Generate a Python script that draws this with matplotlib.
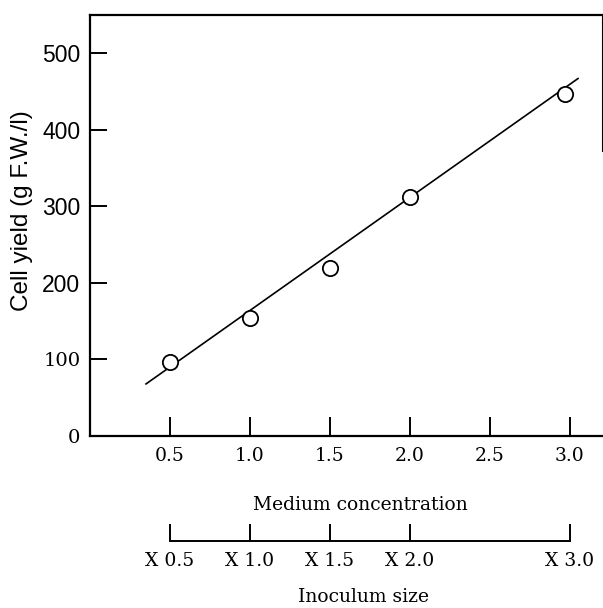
import matplotlib.pyplot as plt

# data
medium = [0.5, 1.0, 1.5, 2.0, 2.97]
cell_yield = [97, 154, 220, 312, 447]
fit_x = [0.35, 3.05]
fit_y = [68, 467]

x_ticks = [0.5, 1.0, 1.5, 2.0, 2.5, 3.0]
x_labels = ["0.5", "1.0", "1.5", "2.0", "2.5", "3.0"]
y_ticks = [0, 100, 200, 300, 400, 500]
inoculum_pos = [0.5, 1.0, 1.5, 2.0, 3.0]
inoculum_labels = ["X 0.5", "X 1.0", "X 1.5", "X 2.0", "X 3.0"]

SERIF = "DejaVu Serif"
SANS = "Liberation Sans"

W, H = 603, 608
fig = plt.figure(figsize=(W / 100, H / 100), dpi=100)

ax = fig.add_axes([90 / W, 172 / H, 512 / W, 421 / H])
ax.plot(fit_x, fit_y, color="black", lw=1.2)
ax.plot(medium, cell_yield, "o", mfc="white", mec="black", ms=11, mew=1.3)
ax.set_xlim(0, 3.2)
ax.set_ylim(0, 550)

for side in ["left", "bottom", "top"]:
    ax.spines[side].set_linewidth(1.6)
ax.spines["right"].set_linewidth(0.8)
ax.spines["right"].set_bounds(372, 550)

ax.set_xticks(x_ticks)
ax.set_xticklabels(x_labels, fontfamily=SERIF, fontsize=13.5)
ax.set_yticks(y_ticks)
ax.set_yticklabels([str(v) for v in y_ticks], fontfamily=SANS, fontsize=16.5)
for lbl in ax.get_yticklabels()[:2]:
    lbl.set_fontfamily(SERIF)
    lbl.set_fontsize(14)
ax.tick_params(axis="x", direction="in", length=14, width=1.4, pad=8)
ax.tick_params(axis="y", direction="in", length=12, width=1.4, pad=7)

ax.set_ylabel("Cell yield (g F.W./l)", fontfamily=SANS, fontsize=17.5, va="center")
ax.yaxis.set_label_coords(22 / W, 1 - 211 / H, transform=fig.transFigure)
ax.set_xlabel("Medium concentration", fontfamily=SERIF, fontsize=13.5, va="center")
ax.xaxis.set_label_coords(360 / W, 1 - 505 / H, transform=fig.transFigure)

# second scale underneath: inoculum size
ax2 = fig.add_axes([90 / W, 67 / H, 512 / W, 0.001])
ax2.patch.set_visible(False)
for side in ["left", "right", "top"]:
    ax2.spines[side].set_visible(False)
ax2.spines["bottom"].set_linewidth(1.4)
ax2.set_xlim(0, 3.2)
ax2.spines["bottom"].set_bounds(inoculum_pos[0], inoculum_pos[-1])
ax2.set_yticks([])
ax2.set_xticks(inoculum_pos)
ax2.set_xticklabels(inoculum_labels, fontfamily=SERIF, fontsize=13.5)
ax2.tick_params(axis="x", direction="in", length=12, width=1.4, pad=8)
ax2.set_xlabel("Inoculum size", fontfamily=SERIF, fontsize=13.5, va="center")
ax2.xaxis.set_label_coords(364 / W, 1 - 597 / H, transform=fig.transFigure)

fig.savefig("out.png", dpi=100)
